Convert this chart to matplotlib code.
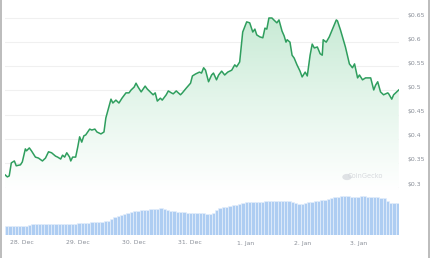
import numpy as np
import matplotlib
matplotlib.use("Agg")
import matplotlib.pyplot as plt
from matplotlib.colors import LinearSegmentedColormap
from matplotlib.patches import Polygon

# hours since 28 Dec 00:00
time_h = [-6.9, -6.0, -5.2, -4.3, -3.0, -2.2, -0.4, 0.4, 1.7, 2.2, 3.4, 4.3, 6.0, 7.3, 9.0,
          10.3, 11.6, 12.9, 14.6, 15.5, 16.8, 17.6, 18.5, 19.4, 20.6, 21.1, 21.9, 23.2, 24.1,
          24.9, 25.8, 26.7, 27.5, 29.2, 30.1, 31.4, 32.3, 34.0, 35.3, 36.1, 37.4, 38.3, 39.1,
          40.4, 41.7, 43.0, 44.7, 46.0, 46.9, 48.2, 49.0, 49.9, 51.2, 52.9, 53.8, 55.5, 56.3,
          57.2, 58.1, 59.4, 60.2, 61.9, 62.8, 64.1, 64.9, 66.2, 68.0, 68.8, 70.5, 72.3, 73.1,
          74.4, 75.3, 76.1, 77.0, 77.9, 78.7, 80.0, 81.3, 82.1, 83.4, 84.3, 85.6, 86.9, 88.2,
          89.9, 91.2, 92.0, 93.3, 94.6, 96.3, 97.6, 98.9, 99.8, 100.6, 101.9, 103.2, 104.1,
          104.9, 105.8, 107.1, 107.9, 109.2, 110.1, 111.4, 112.3, 113.1, 113.6, 114.8, 115.7,
          116.6, 117.8, 119.1, 120.0, 121.3, 122.2, 123.4, 124.3, 125.2, 126.5, 127.7, 128.6,
          129.0, 130.3, 131.6, 133.3, 134.6, 135.1, 136.4, 138.5, 140.2, 141.5, 142.4, 143.7,
          144.5, 145.8, 147.1, 149.3, 150.6, 151.4, 152.3, 153.5, 154.8, 156.6, 157.0, 158.3,
          159.1, 161.3]
price = [0.325, 0.321, 0.323, 0.350, 0.354, 0.344, 0.346, 0.352, 0.379, 0.375, 0.381, 0.375,
         0.362, 0.360, 0.354, 0.360, 0.373, 0.371, 0.364, 0.362, 0.358, 0.366, 0.362, 0.371,
         0.362, 0.354, 0.362, 0.362, 0.383, 0.404, 0.393, 0.406, 0.408, 0.420, 0.418, 0.420,
         0.414, 0.410, 0.414, 0.443, 0.466, 0.482, 0.474, 0.480, 0.474, 0.484, 0.495, 0.495,
         0.501, 0.507, 0.515, 0.507, 0.497, 0.509, 0.503, 0.495, 0.491, 0.495, 0.478, 0.484,
         0.480, 0.491, 0.499, 0.495, 0.493, 0.499, 0.491, 0.495, 0.505, 0.515, 0.530, 0.534,
         0.536, 0.538, 0.536, 0.547, 0.542, 0.518, 0.532, 0.536, 0.522, 0.532, 0.540, 0.532,
         0.538, 0.542, 0.553, 0.549, 0.559, 0.621, 0.642, 0.640, 0.621, 0.627, 0.615, 0.611,
         0.609, 0.629, 0.627, 0.650, 0.650, 0.646, 0.640, 0.646, 0.623, 0.613, 0.600, 0.605,
         0.600, 0.573, 0.567, 0.553, 0.540, 0.528, 0.538, 0.530, 0.573, 0.596, 0.588, 0.590,
         0.576, 0.573, 0.605, 0.600, 0.611, 0.631, 0.646, 0.644, 0.625, 0.590, 0.555, 0.547,
         0.555, 0.526, 0.532, 0.522, 0.526, 0.526, 0.501, 0.511, 0.518, 0.497, 0.491, 0.495,
         0.493, 0.482, 0.491, 0.501]

# volume bars (millions USD, approx.)
vol_musd = [9, 9, 9, 9, 9, 9, 9, 10, 11, 11, 11, 11, 11, 11, 11, 11, 11, 11, 11, 11,
            11, 11, 12, 12, 12, 12, 13, 13, 13, 13, 14, 14, 16, 18, 19, 20, 21, 22, 23, 24,
            24, 25, 25, 25, 26, 26, 26, 27, 26, 25, 24, 24, 23, 23, 23, 22, 22, 22, 22, 22,
            22, 21, 21, 22, 25, 27, 28, 28, 29, 30, 30, 31, 32, 33, 33, 33, 33, 33, 33, 34,
            34, 34, 34, 34, 34, 34, 34, 33, 32, 31, 31, 32, 33, 33, 34, 34, 35, 35, 36, 37,
            38, 38, 39, 39, 39, 38, 38, 38, 39, 39, 38, 38, 38, 38, 37, 37, 34, 32, 32, 32]

tick_hours = [0, 24, 48, 72, 96, 120, 144]
tick_labels = ["28. Dec", "29. Dec", "30. Dec", "31. Dec", "1. Jan", "2. Jan", "3. Jan"]
price_ticks = [0.3, 0.35, 0.4, 0.45, 0.5, 0.55, 0.6, 0.65]

W, H = 430, 258
fig = plt.figure(figsize=(W / 100, H / 100), dpi=100)
xmin, xmax = -7.0, 161.4
line_col = "#2f9e5e"
text_col = "#8a8f98"

def px_box(x0, y0, x1, y1):
    return [x0 / W, 1 - y1 / H, (x1 - x0) / W, (y1 - y0) / H]

# ---- price pane ----
ax = fig.add_axes(px_box(5, 5, 399, 190))
y_lo = 0.65 - (190 - 18) / 24.15 * 0.05
y_hi = 0.65 + (18 - 5) / 24.15 * 0.05
ax.set_xlim(xmin, xmax)
ax.set_ylim(y_lo, y_hi)
for v in price_ticks:
    ax.axhline(v, color="#f0f0f0", lw=0.8, zorder=0)

grad = LinearSegmentedColormap.from_list("g", ["#ffffff", "#e3f5ea", "#c4e9d2"])
img = ax.imshow(np.linspace(0, 1, 256).reshape(-1, 1), cmap=grad, aspect="auto",
                extent=[xmin, xmax, y_lo, y_hi], origin="lower", zorder=1)
poly = Polygon(list(zip(time_h, price)) + [(time_h[-1], y_lo), (time_h[0], y_lo)],
               closed=True, facecolor="none", edgecolor="none")
ax.add_patch(poly)
img.set_clip_path(poly)
ax.plot(time_h, price, color=line_col, lw=1.1, zorder=3)
ax.axis("off")

for v in price_ticks:
    fig.text(408 / W, 1 - ((18 + (0.65 - v) / 0.05 * 24.15) - 3) / H, f"${v:g}",
             fontsize=4.4, color=text_col, va="center", ha="left")

# watermark
fig.text(365 / W, 1 - 176 / H, "CoinGecko", fontsize=4.8, color="#d6d9dd",
         ha="center", va="center")
fig.patches.append(matplotlib.patches.Circle((347 / W, 1 - 177 / H), 4 / W,
                   transform=fig.transFigure, color="#dfe2e5", zorder=2))

# ---- volume pane ----
axv = fig.add_axes(px_box(5, 190, 399, 235))
bar_w = (xmax - xmin) / len(vol_musd)
bar_x = xmin + bar_w * (np.arange(len(vol_musd)) + 0.5)
axv.bar(bar_x, vol_musd, width=bar_w, color="#aecdf2", edgecolor="#e4eefb",
        linewidth=0.5)
axv.set_xlim(xmin, xmax)
axv.set_ylim(0, 45)
axv.axis("off")

for h, lab in zip(tick_hours, tick_labels):
    fx = (5 + (h - xmin) / (xmax - xmin) * 394) / W
    fig.text(fx, 1 - 243 / H, lab, fontsize=4.4, color=text_col, ha="center", va="center")

# frame edges
fig.add_artist(plt.Line2D([0.8 / W, 0.8 / W], [0, 1], color="#b0b0b0", lw=1.2))
fig.add_artist(plt.Line2D([428.5 / W, 428.5 / W], [0, 1], color="#b0b0b0", lw=1.2))

fig.savefig("out.png", dpi=100)
